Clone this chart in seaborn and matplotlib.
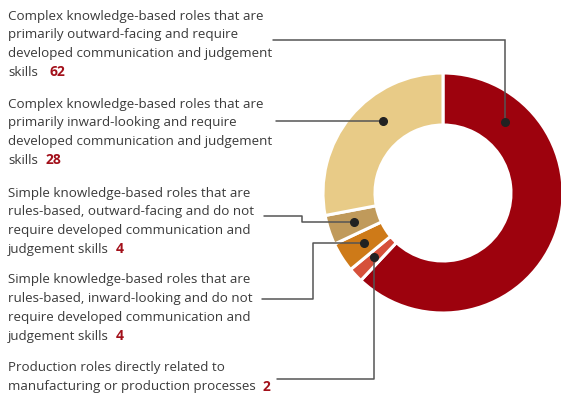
import matplotlib
matplotlib.use("Agg")
import matplotlib.pyplot as plt
import seaborn as sns
import numpy as np

# ---- data ----
labels = [
    "Complex knowledge-based roles that are\nprimarily outward-facing and require\ndeveloped communication and judgement\nskills",
    "Complex knowledge-based roles that are\nprimarily inward-looking and require\ndeveloped communication and judgement\nskills",
    "Simple knowledge-based roles that are\nrules-based, outward-facing and do not\nrequire developed communication and\njudgement skills",
    "Simple knowledge-based roles that are\nrules-based, inward-looking and do not\nrequire developed communication and\njudgement skills",
    "Production roles directly related to\nmanufacturing or production processes",
]
values = [62, 28, 4, 4, 2]
colors = ["#9D020D", "#E8CB87", "#C09A5B", "#CE7A18", "#D6503A"]
pie_order = [0, 4, 3, 2, 1]  # clockwise from 12 o'clock

sns.set_theme(style="white")
plt.rcParams["font.family"] = ["Open Sans", "DejaVu Sans"]

W, H = 561, 394
fig = plt.figure(figsize=(W / 100, H / 100), dpi=100)
ax = fig.add_axes([0, 0, 1, 1])

cx, cy = 443, H - 193
R_out, R_in = 120, 68
ax.pie([values[i] for i in pie_order], colors=[colors[i] for i in pie_order],
       startangle=90, counterclock=False, center=(cx, cy), radius=R_out,
       wedgeprops=dict(width=R_out - R_in, edgecolor="white", linewidth=2.2))
ax.set_xlim(0, W)
ax.set_ylim(0, H)
ax.set_aspect("equal")
ax.axis("off")

# ---- text blocks ----
text_col = "#3a3a3a"
num_col = "#A2101A"
fs = 9.6
block_top = [16, 104, 193, 280, 368]
num_gap = [12, 8, 7, 7, 7]
line_h = 18.8
renderer = fig.canvas.get_renderer()
for k, lab in enumerate(labels):
    lines = lab.split("\n")
    last = None
    for j, ln in enumerate(lines):
        y = H - (block_top[k] + j * line_h)
        last = ax.text(8, y, ln, fontsize=fs, color=text_col, va="center", ha="left")
    bb = last.get_window_extent(renderer=renderer)
    ax.text(bb.x1 + num_gap[k], y, str(values[k]), fontsize=fs + 0.4, color=num_col,
            fontweight="bold", va="center", ha="left")

# ---- leader lines ----
total = sum(values)
start = {}
acc = 0
for i in pie_order:
    start[i] = (acc / total * 360, (acc + values[i]) / total * 360)
    acc += values[i]
R_mid = (R_out + R_in) / 2

def polar(theta):
    t = np.radians(theta)
    return cx + R_mid * np.sin(t), cy + R_mid * np.cos(t)

lc = "#555555"
dot = "#222222"
# 62: horizontal from text then down vertical
y0 = H - 39.5
xv = 505
yd = cy + np.sqrt(R_mid**2 - (xv - cx) ** 2)
ax.plot([273, xv, xv], [y0, y0, yd], color=lc, lw=1.1, solid_joinstyle="miter")
ax.plot(xv, yd, "o", color=dot, ms=5.5)
# 28: horizontal
y1 = H - 121
xd = cx - np.sqrt(R_mid**2 - (y1 - cy) ** 2)
ax.plot([276, xd], [y1, y1], color=lc, lw=1.1)
ax.plot(xd, y1, "o", color=dot, ms=5.5)
# small wedges: elbows
for idx, ty, tx, ex in [(2, 216, 264, 302), (3, 299, 262, 313), (4, 379, 277, None)]:
    a0, a1 = start[idx]
    px, py = polar((a0 + a1) / 2)
    yt = H - ty
    if ex is None:
        ax.plot([tx, px, px], [yt, yt, py], color=lc, lw=1.1)
    else:
        ax.plot([tx, ex, ex, px], [yt, yt, py, py], color=lc, lw=1.1)
    ax.plot(px, py, "o", color=dot, ms=5.5)

fig.savefig("out.png", dpi=100)
